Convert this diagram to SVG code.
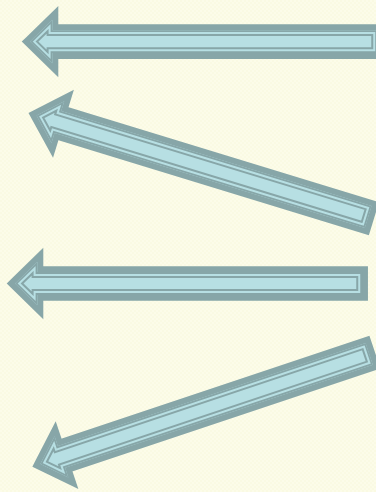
<svg xmlns="http://www.w3.org/2000/svg" xmlns:xlink="http://www.w3.org/1999/xlink" width="376" height="492" viewBox="0 0 376 492">
  <style>
    .o { fill: #b7dfe3; stroke: #87a6a8; stroke-width: 11.7; stroke-linejoin: miter; stroke-miterlimit: 10; }
    .m { fill: none; stroke: #b7dfe3; stroke-width: 7.7; stroke-linejoin: miter; stroke-miterlimit: 10; }
    .i { fill: none; stroke: #87a6a8; stroke-width: 3.7; stroke-linejoin: miter; stroke-miterlimit: 10; }
  </style>
  <defs>
    <pattern id="bgp" width="4" height="4" patternUnits="userSpaceOnUse">
      <rect width="4" height="4" fill="#fcfce9"/>
      <rect width="2" height="2" fill="#fafae3"/>
      <rect x="2" y="2" width="2" height="2" fill="#fafae3"/>
    </pattern>
    <polygon id="shape" points="0,0 22.35,-21.8 22.35,-11.45 347,-11.45 347,11.45 22.35,11.45 22.35,21.8"/>
    <clipPath id="clip"><use href="#shape"/></clipPath>
  </defs>
  <rect width="376" height="492" fill="url(#bgp)"/>
  <g id="arrow1" transform="translate(30.1,41.6)">
    <use href="#shape" class="o"/>
    <use href="#shape" class="m" clip-path="url(#clip)"/>
    <use href="#shape" class="i" clip-path="url(#clip)"/>
  </g>
  <g id="arrow2" transform="translate(36.5,115.5) rotate(17)">
    <use href="#shape" class="o"/>
    <use href="#shape" class="m" clip-path="url(#clip)"/>
    <use href="#shape" class="i" clip-path="url(#clip)"/>
  </g>
  <g id="arrow3" transform="translate(15.1,283.5)">
    <use href="#shape" class="o"/>
    <use href="#shape" class="m" clip-path="url(#clip)"/>
    <use href="#shape" class="i" clip-path="url(#clip)"/>
  </g>
  <g id="arrow4" transform="translate(40.3,464) rotate(-18.5)">
    <use href="#shape" class="o"/>
    <use href="#shape" class="m" clip-path="url(#clip)"/>
    <use href="#shape" class="i" clip-path="url(#clip)"/>
  </g>
  <g id="connectors"/>
</svg>
